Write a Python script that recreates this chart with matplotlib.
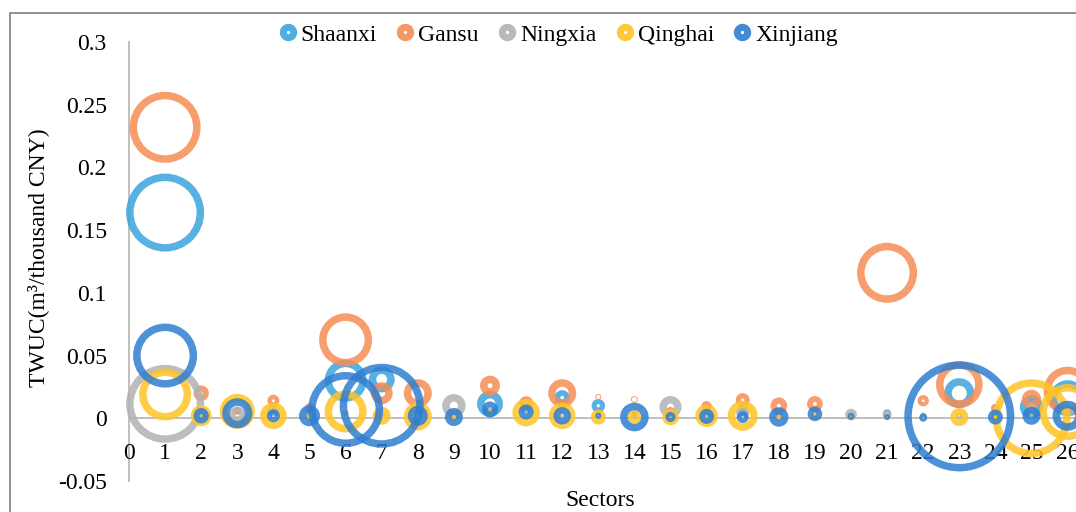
import numpy as np
import matplotlib.pyplot as plt
from matplotlib.lines import Line2D
from matplotlib.patches import Rectangle

plt.rcParams["font.family"] = ["Liberation Serif", "DejaVu Serif"]
plt.rcParams["font.size"] = 17

sectors = list(range(1, 27))
x_ticks = list(range(0, 27))
y_ticks = [-0.05, 0, 0.05, 0.1, 0.15, 0.2, 0.25, 0.3]
y_tick_labels = ["-0.05", "0", "0.05", "0.1", "0.15", "0.2", "0.25", "0.3"]

# TWUC values per sector
shaanxi_twuc = [0.164, 0.002, 0.006, 0.004, 0.003, 0.030, 0.031, 0.004, 0.003, 0.0115, 0.008, 0.0165, 0.010,
                0.004, 0.004, 0.004, 0.005, 0.003, 0.004, 0.002, 0.004, 0.002, 0.020, 0.003, 0.009, 0.016]
gansu_twuc = [0.232, 0.020, 0.006, 0.014, 0.008, 0.0625, 0.020, 0.020, 0.003, 0.026, 0.012, 0.020, 0.017,
              0.015, 0.005, 0.0095, 0.0145, 0.010, 0.0115, 0.003, 0.116, 0.014, 0.027, 0.008, 0.015, 0.022]
ningxia_twuc = [0.0115, 0.002, 0.003, 0.006, 0.003, 0.004, 0.003, 0.003, 0.010, 0.005, 0.006, 0.003, 0.003,
                0.002, 0.009, 0.003, 0.005, 0.003, 0.004, 0.003, 0.003, 0.001, 0.002, 0.004, 0.006, 0.006]
qinghai_twuc = [0.019, 0.002, 0.0055, 0.002, 0.002, 0.0055, 0.002, 0.0015, 0.001, 0.004, 0.0045, 0.002, 0.001,
                0.001, 0.001, 0.002, 0.002, 0.001, 0.001, 0.001, 0.001, 0.001, 0.001, 0.002, 0.000, 0.005]
xinjiang_twuc = [0.050, 0.002, 0.004, 0.002, 0.002, 0.007, 0.010, 0.002, 0.001, 0.007, 0.005, 0.002, 0.002,
                 0.001, 0.001, 0.0015, 0.001, 0.001, 0.0035, 0.0015, 0.001, 0.0005, 0.0015, 0.001, 0.002, 0.002]

# bubble sizes (third variable); negative values are shown as thin hollow bubbles
shaanxi_bubble = [152.1, 0.9, 0.9, 0.9, 0.9, 44.1, 16.9, 1.6, 0.9, 16.9, 2.5, 5.6, 4.5,
                  0.9, 1.6, 1.6, 1.6, 0.9, 0.9, 0.9, 1.6, 0.9, 22.5, 1.6, 13.7, 32.4]
gansu_bubble = [126.0, 5.9, 1.6, 3.6, 2.5, 70.2, 12.1, 19.6, 0.9, 10.0, 4.9, 19.6, -0.9,
                -1.2, 2.5, 2.8, 4.9, 6.9, 6.1, 0.9, 90.0, 3.2, 54.3, 2.0, 9.4, 57.6]
ningxia_bubble = [152.1, 0.9, 6.4, 3.6, 0.9, 0.9, 0.9, 1.6, 13.7, 1.6, 1.6, 0.9, 0.9,
                  0.9, 12.1, 0.9, 4.5, 0.9, 0.9, 3.4, 2.0, 0.9, 0.9, 1.6, 2.5, 3.6]
qinghai_bubble = [67.6, 11.0, 30.6, 17.7, 1.6, 44.1, 8.1, 19.6, 0.9, 0.9, 18.8, 17.7, 5.6,
                  4.5, 6.9, 12.8, 22.5, 0.9, 0.9, 0.9, 0.9, 0.9, 8.1, 0.9, 152.1, 78.4]
xinjiang_bubble = [102.4, 5.9, 22.5, 4.2, 11.0, 140.6, 176.4, 10.0, 8.1, 6.4, 5.6, 7.6, 0.9,
                   20.4, 2.5, 5.6, 3.6, 9.4, 5.3, 1.2, 0.9, 1.6, 302.5, 5.6, 8.1, 22.5]

series = [
    ("Shaanxi", shaanxi_twuc, shaanxi_bubble, "#3CA4DC"),
    ("Gansu", gansu_twuc, gansu_bubble, "#F68D55"),
    ("Ningxia", ningxia_twuc, ningxia_bubble, "#B2B2B2"),
    ("Qinghai", qinghai_twuc, qinghai_bubble, "#FFC425"),
    ("Xinjiang", xinjiang_twuc, xinjiang_bubble, "#2F7ED0"),
]

DPI = 100
PX = 72 / DPI
BUBBLE_PX = np.sqrt(10)

fig = plt.figure(figsize=(10.76, 5.12), dpi=DPI)
fig.patches.append(Rectangle((10 / 1076, -0.1), 1.2, 1.1 - 12.5 / 512, transform=fig.transFigure,
                             fill=False, edgecolor="#7F7F7F", linewidth=1.2, zorder=0))

ax = fig.add_axes([129 / 1076, 31 / 512, 27 * 36.1 / 1076, 439 / 512])
ax.set_xlim(0, 27)
ax.set_ylim(-0.05, 0.3)

for name, twuc, bubble, color in series:
    values = np.array(bubble)
    r_out = np.sqrt(np.abs(values)) * BUBBLE_PX
    lw = np.where(values < 0, 1.0, np.minimum(7.5, 0.75 * r_out))
    path_r = np.maximum(r_out - lw / 2, 0.4)
    sizes = (2 * path_r * PX) ** 2
    ax.scatter(sectors, twuc, s=sizes, facecolors="none", edgecolors=color,
               linewidths=lw * PX, alpha=0.85, zorder=3, clip_on=False)

for side in ["top", "right"]:
    ax.spines[side].set_visible(False)
ax.spines["bottom"].set_position(("data", 0))
for side in ["left", "bottom"]:
    ax.spines[side].set_color("#BFBFBF")
    ax.spines[side].set_linewidth(1.4)
    ax.spines[side].set_zorder(1)

ax.set_xticks(x_ticks)
ax.set_xticklabels([str(t) for t in x_ticks])
ax.set_yticks(y_ticks)
ax.set_yticklabels(y_tick_labels)
ax.tick_params(axis="both", length=0, labelsize=17)
ax.tick_params(axis="y", pad=16)
ax.tick_params(axis="x", pad=18)
ax.patch.set_visible(False)

fig.text(38 / 1076, 1 - 258 / 512, "TWUC(m³/thousand CNY)", rotation=90, ha="center", va="center", fontsize=17)
fig.text(600 / 1076, 1 - 501 / 512, "Sectors", ha="center", va="center", fontsize=17)

handles = [Line2D([], [], linestyle="none", marker="o", markersize=7.5, markeredgewidth=5,
                  markerfacecolor="white", markeredgecolor=color, alpha=0.9)
           for _, _, _, color in series]
fig.legend(handles, [s[0] for s in series], loc="center", bbox_to_anchor=(558 / 1076, 1 - 35 / 512),
           ncol=5, frameon=False, handlelength=0.8, handletextpad=0.15, columnspacing=0.8,
           borderaxespad=0, fontsize=17)

fig.savefig("out.png", dpi=DPI)
